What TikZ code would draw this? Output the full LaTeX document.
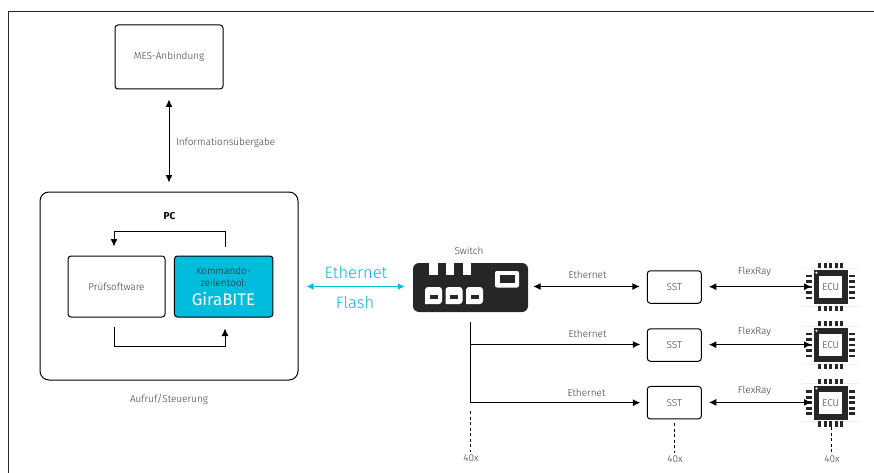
\documentclass[tikz,border=0pt]{standalone}
\usepackage{fontspec}
\setmainfont{Fira Sans}
\newfontfamily\lightfont{Fira Sans Light}
\usetikzlibrary{arrows.meta,calc}
\definecolor{txt}{HTML}{3A3A3A}
\definecolor{dark}{HTML}{262626}
\definecolor{gira}{HTML}{00BCDD}
\tikzset{
  x=1pt,y=-1pt,
  frame/.style={draw=black,line width=1pt,rounded corners=3pt,minimum width=#1,inner sep=0pt,fill=white},
  lbl/.style={text=txt,font=\lightfont\fontsize{10}{12}\selectfont,inner sep=0pt},
  big/.style={text=gira,font=\lightfont\fontsize{16.5}{18}\selectfont,inner sep=0pt},
  conn/.style={draw=black,line width=1pt},
  one/.style={conn,-{Latex[length=7.5pt,width=7pt]}},
  two/.style={conn,{Latex[length=7.5pt,width=7pt]}-{Latex[length=7.5pt,width=7pt]}},
  cyanarrow/.style={draw=gira,line width=1.6pt,{Latex[length=7pt,width=7pt]}-{Latex[length=7pt,width=7pt]}},
  dashline/.style={draw=black,line width=0.8pt,dash pattern=on 3pt off 2.5pt},
}
\begin{document}
\begin{tikzpicture}
\useasboundingbox (0,0) rectangle (874,473);
\draw[draw=dark,line width=1pt] (8.5,473) -- (8.5,11.5) -- (874,11.5);

\node[frame=108pt,minimum height=64pt] (mes) at (169,57) {};
\node[lbl] at (mes.center) {MES-Anbindung};

\node[draw=black,line width=1pt,rounded corners=9pt,minimum width=258pt,minimum height=188pt,inner sep=0pt] (pc) at (169,286) {};
\node[font=\fontsize{10}{12}\selectfont\bfseries,inner sep=0pt] (pclabel) at (169.5,216) {PC};
\node[frame=97pt,minimum height=61pt] (pruef) at (116.5,286.5) {};
\node[lbl] at (pruef.center) {Prüfsoftware};
\node[frame=98.5pt,minimum height=61pt,fill=gira] (tool) at (223.7,286.5) {};
\node[lbl,text=dark,align=center,font=\lightfont\fontsize{10}{12}\selectfont] at (223.5,276.5) {Kommando-\\zeilentool:};
\node[inner sep=0pt,text=white,font=\fontsize{16.8}{18}\selectfont] at (223.5,299.5) {GiraBITE};
\node[lbl] (aufruf) at (169,399.5) {Aufruf/Steuerung};

\draw[two,shorten >=9pt,shorten <=10pt] (mes.south) -- node[lbl,right=6.5pt,pos=.52] {Informationsübergabe} (pc.north);

\coordinate (t1) at (225,231);
\coordinate (t2) at (114,231);
\coordinate (b1) at (114,346);
\coordinate (b2) at (225,346);
\coordinate (t0) at (225,247);
\coordinate (b0) at (114,327);
\draw[one,shorten >=9pt] (t0) -- (t1) -- (t2) -- (pruef.north -| t2);
\draw[one,shorten >=11pt] (b0) -- (b1) -- (b2) -- (tool.south -| b2);

% switch
\node[fill=dark,rounded corners=6pt,minimum width=115pt,minimum height=49pt,inner sep=0pt] (switch) at (470.5,287.5) {};
\node[lbl] (swlabel) at (469,250.5) {Switch};
\foreach \xx in {429.3,446,462.5}
  \fill[white] (\xx,262.5) rectangle (\xx+8.3,275.2);
\fill[white,rounded corners=2pt] (495,271) rectangle (519,287.5);
\fill[dark] (500,275) rectangle (515,283);
\foreach \xx in {425,445.5,466}{
  \fill[white,rounded corners=3pt] (\xx,304) -- (\xx,287) -- (\xx+17,287) -- (\xx+17,304) [sharp corners] -- cycle;
  \fill[dark] (\xx+4.5,295.2) rectangle (\xx+12.5,299.2);
}

\coordinate (r1) at (0,286.5);
\coordinate (r2) at (0,344.5);
\coordinate (r3) at (0,402.7);
\draw[cyanarrow,shorten >=8pt,shorten <=8pt] (pc.east |- r1) -- (switch.west |- r1);
\node[big] (ethbig) at (356,272) {Ethernet};
\node[big] (flashbig) at (355,302) {Flash};

% SST and ECU rows
\foreach \i/\yy in {1/287,2/345,3/402.7}{
  \node[frame=54pt,minimum height=32.5pt] (sst\i) at (674.3,\yy) {};
  \node[lbl] at (sst\i.center) {SST};
  \begin{scope}[shift={(830.7,\yy)}]
    \draw[black!6,line width=0.5pt] (-29,-19) -- (29,-19) (-29,19) -- (29,19);
    \foreach \dx in {-11,-5.5,0,5.5,11}{
      \fill[dark] (\dx-1.4,-24) rectangle (\dx+1.4,-18.7);
      \fill[dark] (\dx-1.4,18.7) rectangle (\dx+1.4,24);
    }
    \foreach \dy in {-11,-5.5,0,5.5,11}{
      \fill[dark] (-24.5,\dy-1.4) rectangle (-18.5,\dy+1.4);
      \fill[dark] (18.5,\dy-1.4) rectangle (24.5,\dy+1.4);
    }
    \fill[dark] (-17,-17) rectangle (17,17);
    \fill[white] (-11.5,-11) rectangle (11.5,11);
    \fill[white] (-14.3,-14.3) circle (1.2);
  \end{scope}
  \node[lbl,minimum width=23pt,minimum height=22pt] (ecu\i) at (830.7,\yy) {ECU};
  \coordinate (rr\i) at (0,\yy-0.3);
  \draw[two,shorten >=7.5pt,shorten <=7pt] (sst\i.east |- rr\i) -- (ecu\i.west |- rr\i);
}
\draw[two,shorten >=7pt,shorten <=5pt] (switch.east |- r1) -- (sst1.west |- r1);
\node[lbl] (e1) at (587.5,275) {Ethernet};
\node[lbl] (e2) at (587.5,333.5) {Ethernet};
\node[lbl] (e3) at (586.5,392.5) {Ethernet};
\node[lbl] (f1) at (754.5,272) {FlexRay};
\node[lbl] (f2) at (754.5,332) {FlexRay};
\node[lbl] (f3) at (754.5,390.5) {FlexRay};

\coordinate (v) at (470.7,322);
\coordinate (vend) at (470.7,402.7);
\draw[conn] (v) -- (vend);
\draw[one,shorten >=6.5pt] (v |- r2) -- (sst2.west |- r2);
\draw[one,shorten >=6.5pt] (vend) -- (sst3.west |- vend);

\node[lbl] (n1) at (471,458.5) {40x};
\node[lbl] (n2) at (675,459.5) {40x};
\node[lbl] (n3) at (832,459.5) {40x};
\coordinate (d1) at (470.7,411);
\coordinate (d2) at (674.7,423);
\coordinate (d3) at (831.7,427);
\draw[dashline] (d1) -- ($(d1 |- n1.north)+(0,-3)$);
\draw[dashline] (d2) -- ($(d2 |- n2.north)+(0,-3)$);
\draw[dashline] (d3) -- ($(d3 |- n3.north)+(0,-3)$);
\end{tikzpicture}
\end{document}
